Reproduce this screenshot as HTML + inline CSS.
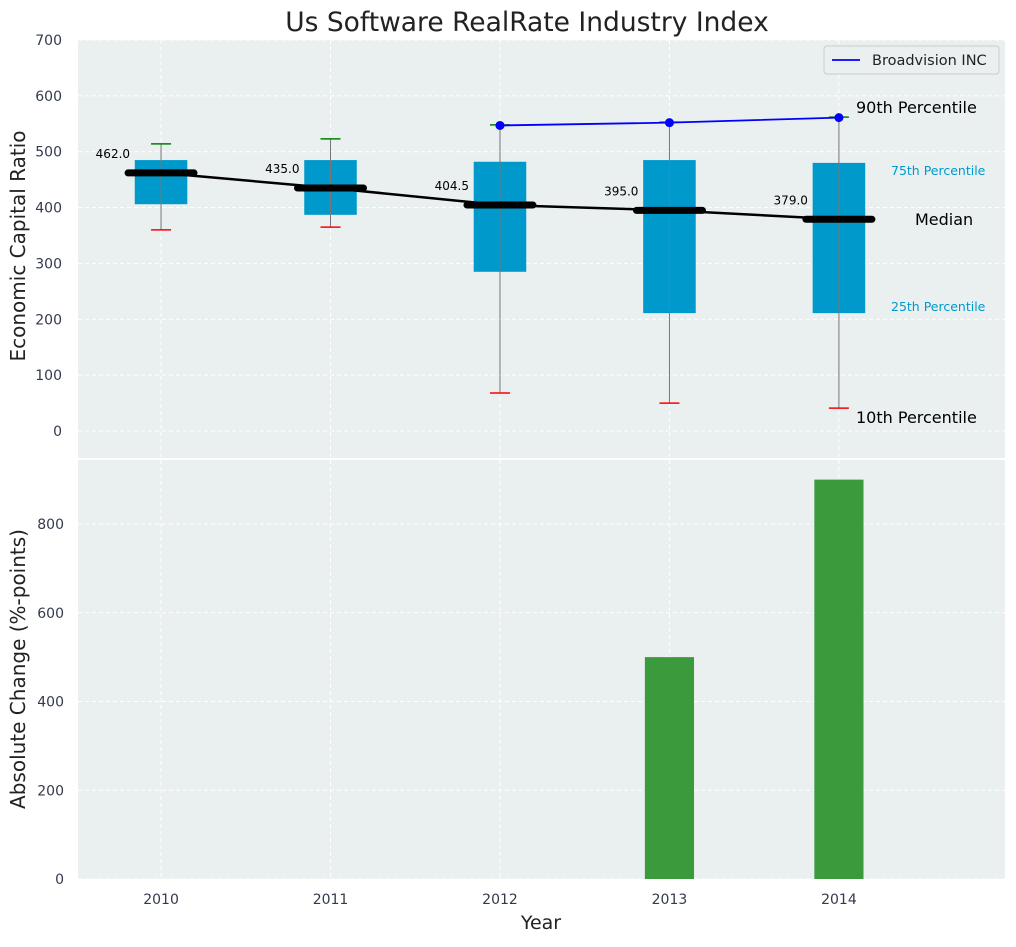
<!DOCTYPE html>
<html><head><meta charset="utf-8"><style>
body{margin:0;background:#fff;font-family:"Liberation Sans","DejaVu Sans",sans-serif}
svg text{font-family:"DejaVu Sans","Liberation Sans",sans-serif}
</style></head><body>
<svg id="c" width="1016" height="942" xmlns="http://www.w3.org/2000/svg"></svg>
<script>
const years=[2010,2011,2012,2013,2014];
const q1=[406,387,285,211,211];
const q3=[485,485,482,485,480];
const p10=[360,365,68,50,41];
const p90=[514,523,548,553,562];
const medians=[462,435,404.5,395,379];
const bvYears=[2012,2013,2014];
const bvValues=[547,552,561];
const changeYears=[2013,2014];
const changeValues=[500,900];
const topTicks=[0,100,200,300,400,500,600,700];
const botTicks=[0,200,400,600,800];

const NS="http://www.w3.org/2000/svg";
const svg=document.getElementById('c');
function el(t,a,parent){const e=document.createElementNS(NS,t);for(const k in a)e.setAttribute(k,a[k]);(parent||svg).appendChild(e);return e;}
const L=78,R=1005;
const x=v=>L+(v-2009.51)/(2014.98-2009.51)*(R-L);
const yT=v=>431-v*0.5586;
const yB=v=>879-v*0.44375;

let g;
g=el('rect',{x:L,y:40,width:R-L,height:418,fill:'#eaeff0'});

g=el('rect',{x:L,y:460,width:R-L,height:419,fill:'#eaeff0'});

years.forEach(v=>{
 el('line',{x1:x(v),x2:x(v),y1:40,y2:458,stroke:'#fff','stroke-dasharray':'4,3','stroke-width':1});
 el('line',{x1:x(v),x2:x(v),y1:460,y2:879,stroke:'#fff','stroke-dasharray':'4,3','stroke-width':1});
});
topTicks.forEach(v=>{
 el('line',{x1:L,x2:R,y1:yT(v),y2:yT(v),stroke:'#fff','stroke-dasharray':'4,3'});
 const t=el('text',{x:62,y:yT(v)+5,'text-anchor':'end','font-size':14,fill:'#333a4d'});t.textContent=v;
 
});
botTicks.forEach(v=>{
 el('line',{x1:L,x2:R,y1:yB(v),y2:yB(v),stroke:'#fff','stroke-dasharray':'4,3'});
 const t=el('text',{x:64,y:yB(v)+5,'text-anchor':'end','font-size':14,fill:'#333a4d'});t.textContent=v;
 
});
years.forEach(v=>{
 const t=el('text',{x:x(v),y:904,'text-anchor':'middle','font-size':14,fill:'#333a4d'});t.textContent=v;
 
});
const hw=(x(2010.155)-x(2010));
years.forEach((yr,i)=>{
 const cx=x(yr);
 let b=el('rect',{x:cx-hw,y:yT(q3[i]),width:2*hw,height:yT(q1[i])-yT(q3[i]),fill:'#0099cc'});
 
 el('line',{x1:cx,x2:cx,y1:yT(p90[i]),y2:yT(p10[i]),stroke:'#777','stroke-width':1});
 let c=el('line',{x1:cx-10,x2:cx+10,y1:yT(p90[i]),y2:yT(p90[i]),stroke:'green','stroke-width':1.5});
 
 c=el('line',{x1:cx-10,x2:cx+10,y1:yT(p10[i]),y2:yT(p10[i]),stroke:'red','stroke-width':1.5});
 
});
let ml=el('polyline',{points:years.map((v,i)=>x(v)+','+yT(medians[i])).join(' '),fill:'none',stroke:'#000','stroke-width':2.5});

years.forEach((yr,i)=>{
 const cx=x(yr),yy=yT(medians[i]);
 let m=el('line',{x1:cx-33,x2:cx+33,y1:yy,y2:yy,stroke:'#000','stroke-width':7,'stroke-linecap':'round'});
 
 const t=el('text',{x:cx-31,y:yy-15,'text-anchor':'end','font-size':12,fill:'#000'});t.textContent=medians[i].toFixed(1);
 
});
let bl=el('polyline',{points:bvYears.map((v,i)=>x(v)+','+yT(bvValues[i])).join(' '),fill:'none',stroke:'blue','stroke-width':1.8});

bvYears.forEach((v,i)=>{const p=el('circle',{cx:x(v),cy:yT(bvValues[i]),r:4.5,fill:'blue'});
 });
[[856,113,'90th Percentile',16,'#000'],[891,175,'75th Percentile',12.5,'#0099cc'],[915,225,'Median',16,'#000'],[891,311,'25th Percentile',12.5,'#0099cc'],[856,423,'10th Percentile',16,'#000']].forEach(a=>{
 const t=el('text',{x:a[0],y:a[1],'font-size':a[3],fill:a[4]});t.textContent=a[2];
 
});
const bw=x(2010.145)-x(2010);
changeYears.forEach((v,i)=>{
 const r=el('rect',{x:x(v)-bw,y:yB(changeValues[i]),width:2*bw,height:879-yB(changeValues[i]),fill:'#3a9a3c'});
 
});
let lg=el('g',{});
el('rect',{x:824,y:46,width:175,height:28,rx:3,fill:'#eaeff0',stroke:'#ccc'},lg);
el('line',{x1:832,x2:860,y1:60,y2:60,stroke:'blue','stroke-width':1.8},lg);
let lt=el('text',{x:872,y:65,'font-size':14.5,fill:'#222'},lg);lt.textContent='Broadvision INC';
let t=el('text',{x:527,y:31,'text-anchor':'middle','font-size':26.5,fill:'#222'});t.textContent='Us Software RealRate Industry Index';

t=el('text',{x:25,y:246,'text-anchor':'middle','font-size':20,fill:'#222',transform:'rotate(-90 25 246)'});t.textContent='Economic Capital Ratio';

t=el('text',{x:25,y:669,'text-anchor':'middle','font-size':20,fill:'#222',transform:'rotate(-90 25 669)'});t.textContent='Absolute Change (%-points)';

t=el('text',{x:541,y:929,'text-anchor':'middle','font-size':19,fill:'#222'});t.textContent='Year';

</script>
</body></html>
